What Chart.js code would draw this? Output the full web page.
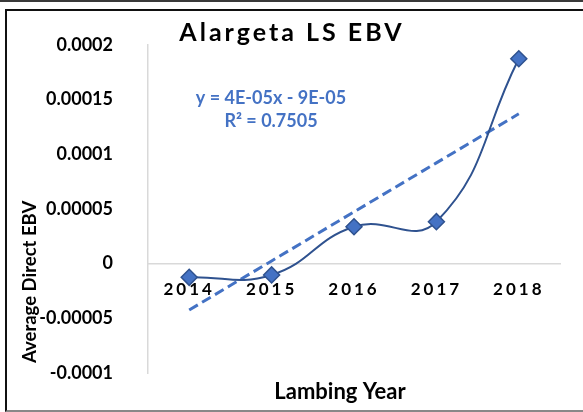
<!DOCTYPE html>
<html>
<head>
<meta charset="utf-8">
<script src="https://cdn.jsdelivr.net/npm/chart.js@4"></script>
<style>
  html, body { margin: 0; padding: 0; background: #fff; }
  #wrap { position: relative; width: 583px; height: 412px; overflow: hidden; }
  #topline { position: absolute; left: 0; top: 0; width: 583px; height: 2px; background: #3a3a3a; }
  #frame { position: absolute; left: 5px; top: 9px; width: 600px; height: 399px;
           border-left: 2px solid #111; border-top: 2px solid #111; border-bottom: 2px solid #888; }
  canvas { position: absolute; left: 0; top: 0; }
</style>
</head>
<body>
<div id="wrap">
  <div id="topline"></div>
  <div id="frame"></div>
  <canvas id="ebvChart" width="583" height="412"></canvas>
</div>
<script>
const years = ['2014', '2015', '2016', '2017', '2018'];
const avgDirectEbv = [-0.0000125, -0.0000103, 0.0000338, 0.0000384, 0.0001874];
const yTicks = [-0.0001, -0.00005, 0, 0.00005, 0.0001, 0.00015, 0.0002];
const trendText = ['y = 4E-05x - 9E-05', 'R² = 0.7505'];

// linear trendline (least squares over x = 1..n, like Excel)
const xs = years.map((_, i) => i + 1);
const mx = xs.reduce((a, b) => a + b) / xs.length;
const my = avgDirectEbv.reduce((a, b) => a + b) / avgDirectEbv.length;
let sxy = 0, sxx = 0;
xs.forEach((x, i) => { sxy += (x - mx) * (avgDirectEbv[i] - my); sxx += (x - mx) ** 2; });
const slope = sxy / sxx;
const intercept = my - slope * mx;
const trend = xs.map(x => intercept + slope * x);

const boldFont = size => ({ family: 'Lato', size: size, weight: 'bold' });

// letter spacing / small offsets for a few text blocks
const tweaks = {
  id: 'tweaks',
  afterUpdate(chart) {
    if (chart._tweaked) return;
    chart._tweaked = true;
    const wrap = (obj, name, fn) => {
      const orig = obj[name];
      obj[name] = function (...args) {
        const c = this.ctx;
        c.save();
        fn(c);
        orig.apply(this, args);
        c.restore();
      };
    };
    wrap(chart.titleBlock, 'draw', c => { c.letterSpacing = '3px'; c.translate(12, 0); });
    wrap(chart.scales.x, 'drawLabels', c => { c.letterSpacing = '3px'; });
    wrap(chart.scales.y, 'drawTitle', c => { c.translate(0, -10); });
    const sub = chart.boxes.find(b => b !== chart.titleBlock && b.constructor === chart.titleBlock.constructor);
    if (sub) wrap(sub, 'draw', c => { c.translate(-14, 0); });
  },
  afterDraw(chart) {
    const { ctx, chartArea } = chart;
    ctx.save();
    ctx.fillStyle = '#4472c4';
    ctx.font = 'bold 18px Lato';
    ctx.textAlign = 'center';
    ctx.textBaseline = 'middle';
    ctx.fillText(trendText[0], chartArea.left + 123, chartArea.top + 53);
    ctx.fillText(trendText[1], chartArea.left + 123, chartArea.top + 76);
    ctx.restore();
  }
};

new Chart(document.getElementById('ebvChart'), {
  type: 'line',
  data: {
    labels: years,
    datasets: [{
      label: 'Average Direct EBV',
      data: avgDirectEbv,
      borderColor: '#2f528f',
      borderWidth: 2,
      tension: 0.45,
      pointStyle: 'rectRot',
      pointRadius: 8,
      pointBackgroundColor: '#4472c4',
      pointBorderColor: '#2f528f',
      pointBorderWidth: 1.5
    }, {
      label: 'Linear trend',
      data: trend,
      borderColor: '#4472c4',
      borderWidth: 3,
      borderDash: [10, 5],
      pointRadius: 0,
      tension: 0
    }]
  },
  options: {
    responsive: false,
    animation: false,
    layout: { padding: { left: 0, right: 23, top: 0, bottom: 0 } },
    plugins: {
      legend: { display: false },
      tooltip: { enabled: false },
      title: {
        display: true,
        text: 'Alargeta LS EBV',
        color: '#000',
        font: boldFont(25),
        padding: { top: 18, bottom: -3 }
      },
      subtitle: {
        display: true,
        position: 'bottom',
        fullSize: false,
        text: 'Lambing Year',
        color: '#000',
        font: boldFont(22),
        padding: { top: 6, bottom: 6.6 }
      }
    },
    scales: {
      x: {
        position: { y: 0 },
        offset: true,
        grid: { display: false, drawTicks: false },
        border: { color: '#d9d9d9', width: 1.5 },
        ticks: { color: '#000', font: boldFont(17), padding: 16, maxRotation: 0 },
        afterFit: s => { s.height = 0; }
      },
      y: {
        min: -0.0001,
        max: 0.0002,
        afterBuildTicks: s => { s.ticks = yTicks.map(v => ({ value: v })); },
        grid: { display: false, drawTicks: false },
        border: { color: '#d9d9d9', width: 1.5 },
        ticks: {
          color: '#000',
          font: boldFont(18),
          padding: 35,
          callback: v => String(parseFloat(Number(v).toFixed(5)))
        },
        title: {
          display: true,
          text: 'Average Direct EBV',
          align: 'start',
          color: '#000',
          font: boldFont(18.5),
          padding: { top: 19, bottom: 0 }
        },
        afterFit: s => { s.width = 148; s.paddingTop = 0; s.paddingBottom = 0; }
      }
    }
  },
  plugins: [tweaks]
});
</script>
</body>
</html>
